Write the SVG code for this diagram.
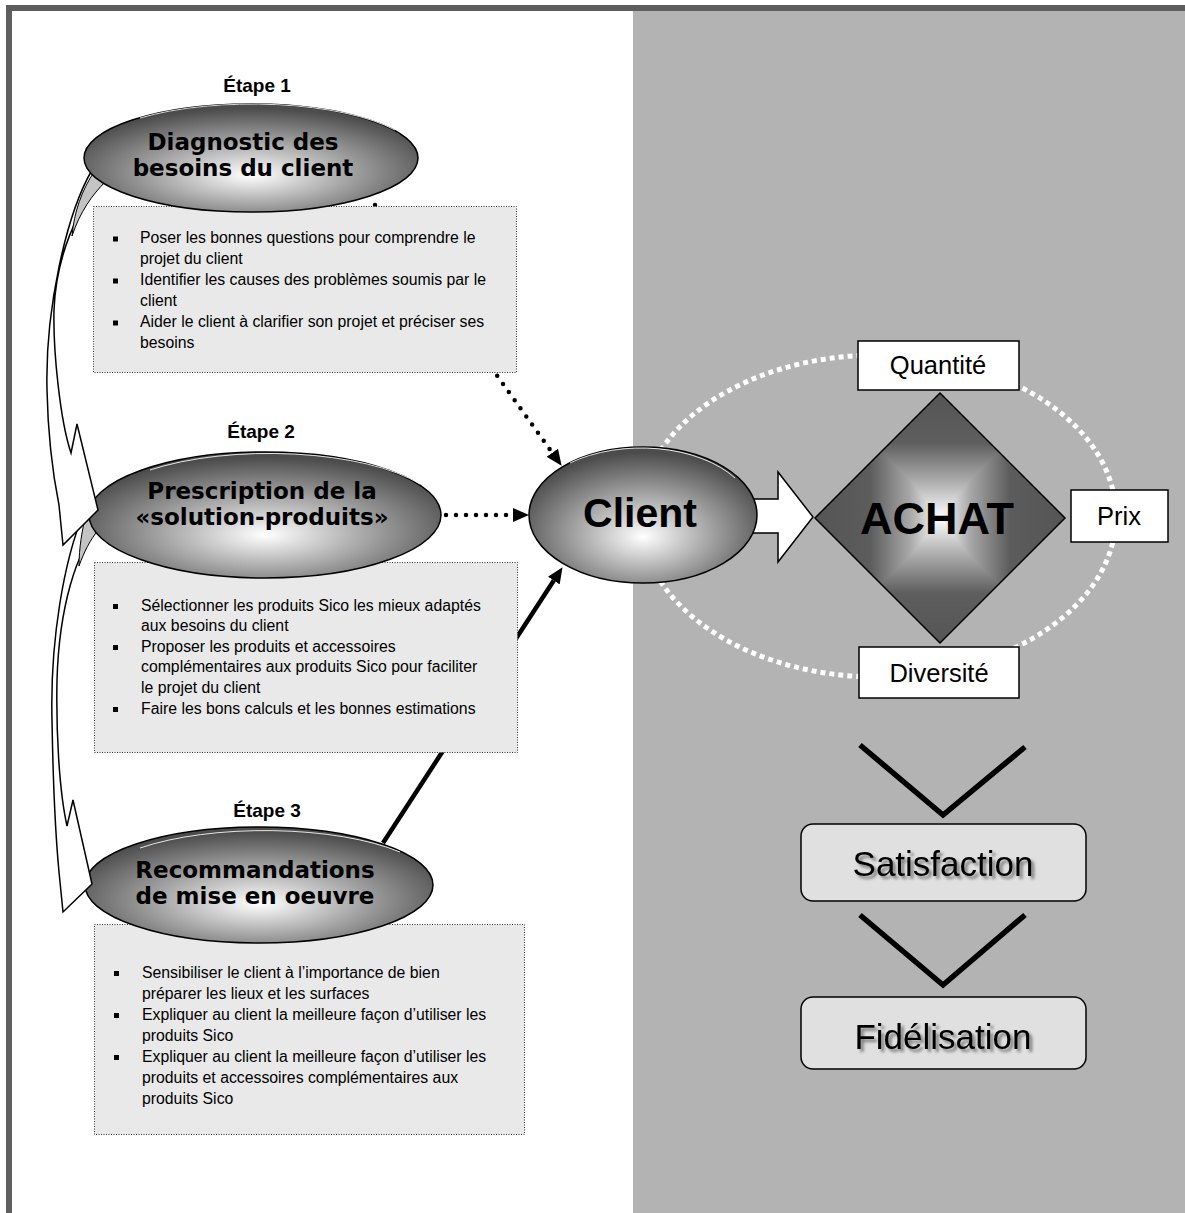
<svg xmlns="http://www.w3.org/2000/svg" width="1185" height="1213" viewBox="0 0 1185 1213">
<style>
text { font-family: "Liberation Sans", Arial, sans-serif; fill: #000; }
.body { font-size: 15.8px; }
.etape { font-size: 19px; font-weight: bold; text-anchor: middle; }
.elab { font-family: "DejaVu Sans", "Liberation Sans", sans-serif; font-size: 23px; font-weight: bold; text-anchor: middle; }
.box { fill: #e9e9e9; stroke: #333; stroke-width: 1; stroke-dasharray: 1 1.5; }
.ell { fill: url(#eg); stroke: #000; stroke-width: 1.5; }
.hl { fill: none; stroke: #fff; stroke-width: 1; opacity: 0.85; }
.tag { fill: #fff; stroke: #000; stroke-width: 1.5; }
.tagt { font-size: 25.5px; text-anchor: middle; }
.rbox { fill: #e0e0e0; stroke: #000; stroke-width: 1.5; }
.big { font-size: 35px; text-anchor: middle; filter: url(#sh); }
.dots { fill: none; stroke: #000; stroke-width: 4.5; stroke-linecap: round; stroke-dasharray: 0 10; }
.solid { fill: none; stroke: #000; stroke-width: 4.5; }
.curv { fill: #fff; stroke: #000; stroke-width: 1.5; stroke-linejoin: miter; }
.back { fill: #c4c4c4; stroke: #000; stroke-width: 1; }
.chev { fill: none; stroke: #000; stroke-width: 5.5; }
.bul { fill: #000; }
</style>
<defs>
<radialGradient id="eg" cx="0.5" cy="0.62" r="0.58" fx="0.5" fy="0.66">
<stop offset="0" stop-color="#ffffff"/>
<stop offset="1" stop-color="#4c4c4c"/>
</radialGradient>
<linearGradient id="dgh" x1="0" y1="0" x2="1" y2="0">
<stop offset="0" stop-color="#555"/>
<stop offset="0.22" stop-color="#5c5c5c"/>
<stop offset="0.38" stop-color="#a8a8a8"/>
<stop offset="0.5" stop-color="#ffffff"/>
<stop offset="0.62" stop-color="#a8a8a8"/>
<stop offset="0.78" stop-color="#5c5c5c"/>
<stop offset="1" stop-color="#555"/>
</linearGradient>
<linearGradient id="dgv" x1="0" y1="0" x2="0" y2="1">
<stop offset="0" stop-color="#555"/>
<stop offset="0.2" stop-color="#5e5e5e"/>
<stop offset="0.36" stop-color="#b0b0b0"/>
<stop offset="0.5" stop-color="#ffffff"/>
<stop offset="0.64" stop-color="#b0b0b0"/>
<stop offset="0.8" stop-color="#5e5e5e"/>
<stop offset="1" stop-color="#555"/>
</linearGradient>
<marker id="ah" viewBox="0 0 16 14" refX="0" refY="7" markerWidth="16" markerHeight="14" orient="auto" markerUnits="userSpaceOnUse">
<path d="M0,0 L16,7 L0,14 Z" fill="#000"/>
</marker>
<filter id="sh" x="-10%" y="-30%" width="130%" height="170%">
<feGaussianBlur in="SourceAlpha" stdDeviation="1.6"/>
<feOffset dx="2.5" dy="3" result="o"/>
<feFlood flood-color="#000" flood-opacity="0.45"/>
<feComposite in2="o" operator="in"/>
<feMerge><feMergeNode/><feMergeNode in="SourceGraphic"/></feMerge>
</filter>
</defs>

<!-- background / frame -->
<rect x="0" y="0" width="1185" height="1213" fill="#fff"/>
<rect x="633" y="11" width="552" height="1202" fill="#b3b3b3"/>
<rect x="6" y="5" width="1179" height="6" fill="#5e5e5e"/>
<rect x="6" y="5" width="6" height="1208" fill="#5e5e5e"/>

<!-- connectors -->
<g id="connectors">
<line class="dots" x1="375" y1="205" x2="552.3" y2="452.8" marker-end="url(#ah)"/>
<line class="dots" x1="446" y1="515" x2="513" y2="515" marker-end="url(#ah)"/>
<line class="solid" x1="383" y1="843" x2="553.8" y2="580.6" marker-end="url(#ah)"/>
</g>

<!-- text boxes -->
<g id="box1">
<rect class="box" x="93.5" y="206.5" width="423" height="166"/>
<rect class="bul" x="113" y="236.5" width="5" height="5"/>
<rect class="bul" x="113" y="278.5" width="5" height="5"/>
<rect class="bul" x="113" y="320.5" width="5" height="5"/>
<text class="body" x="140" y="243">Poser les bonnes questions pour comprendre le</text>
<text class="body" x="140" y="264">projet du client</text>
<text class="body" x="140" y="285">Identifier les causes des problèmes soumis par le</text>
<text class="body" x="140" y="306">client</text>
<text class="body" x="140" y="327">Aider le client à clarifier son projet et préciser ses</text>
<text class="body" x="140" y="348">besoins</text>
</g>
<g id="box2">
<rect class="box" x="94.5" y="562.5" width="423" height="190"/>
<rect class="bul" x="113" y="604" width="5" height="5"/>
<rect class="bul" x="113" y="645" width="5" height="5"/>
<rect class="bul" x="113" y="707" width="5" height="5"/>
<text class="body" x="141" y="610.5">Sélectionner les produits Sico les mieux adaptés</text>
<text class="body" x="141" y="631">aux besoins du client</text>
<text class="body" x="141" y="651.5">Proposer les produits et accessoires</text>
<text class="body" x="141" y="672">complémentaires aux produits Sico pour faciliter</text>
<text class="body" x="141" y="692.5">le projet du client</text>
<text class="body" x="141" y="713.5">Faire les bons calculs et les bonnes estimations</text>
</g>
<g id="box3">
<rect class="box" x="94.5" y="924.5" width="430" height="210"/>
<rect class="bul" x="114" y="971" width="5" height="5"/>
<rect class="bul" x="114" y="1013" width="5" height="5"/>
<rect class="bul" x="114" y="1055" width="5" height="5"/>
<text class="body" x="142" y="977.5">Sensibiliser le client à l’importance de bien</text>
<text class="body" x="142" y="998.5">préparer les lieux et les surfaces</text>
<text class="body" x="142" y="1019.5">Expliquer au client la meilleure façon d’utiliser les</text>
<text class="body" x="142" y="1040.5">produits Sico</text>
<text class="body" x="142" y="1061.5">Expliquer au client la meilleure façon d’utiliser les</text>
<text class="body" x="142" y="1083">produits et accessoires complémentaires aux</text>
<text class="body" x="142" y="1104">produits Sico</text>
</g>

<!-- step 3 -->
<g id="etape3">
<text class="etape" x="267" y="817">Étape 3</text>
<ellipse class="ell" cx="259" cy="885" rx="174" ry="58"/>
<path class="hl" d="M 140,848 A 172,56 0 0 1 400,852"/>
<text class="elab" x="255" y="878">Recommandations</text>
<text class="elab" x="255" y="904">de mise en oeuvre</text>
</g>

<!-- curved arrow 2 -> 3 -->
<g id="curve2">
<path class="curv" d="M 84,512 C 64,560 50,640 52,720 C 53,780 56,840 59,872 L 63,912 L 92,884 L 73,800 L 67,826 C 59,790 56,730 57,680 C 59,610 76,548 100,528 Z"/>
<path class="back" d="M 86,515 L 99,529 C 90,540 84,552 79,566 C 79,548 82,530 86,515 Z"/>
</g>

<g id="etape2">
<text class="etape" x="261" y="438">Étape 2</text>
<ellipse class="ell" cx="265" cy="515" rx="176" ry="63"/>
<path class="hl" d="M 150,470 A 174,61 0 0 1 420,484"/>
<text class="elab" x="262" y="499">Prescription de la</text>
<text class="elab" x="262" y="525">«solution-produits»</text>
</g>

<!-- curved arrow 1 -> 2 -->
<g id="curve1">
<path class="curv" d="M 92,170 C 66,215 45,310 47,390 C 48,440 54,480 59,505 L 63,545 L 98,510 L 77,424 L 71,453 C 60,420 53,350 54,310 C 56,260 76,205 106,180 Z"/>
<path class="back" d="M 94,172 L 106,181 C 92,195 80,212 72,236 C 74,212 82,190 94,172 Z"/>
</g>

<g id="etape1">
<text class="etape" x="257" y="92">Étape 1</text>
<ellipse class="ell" cx="251" cy="158" rx="167" ry="54"/>
<path class="hl" d="M 140,118 A 165,52 0 0 1 395,130"/>
<text class="elab" x="243" y="150">Diagnostic des</text>
<text class="elab" x="243" y="176">besoins du client</text>
</g>

<!-- right panel -->
<g id="cycle">
<ellipse cx="878" cy="516" rx="238" ry="161" fill="none" stroke="#fff" stroke-width="5" stroke-dasharray="5 4"/>
</g>
<g id="fleche">
<path d="M 750,499 L 778,499 L 778,472 L 813,517 L 778,562 L 778,533 L 750,533 Z" fill="#fff" stroke="#000" stroke-width="1.5"/>
</g>
<g id="client">
<ellipse class="ell" cx="643" cy="515" rx="114" ry="68"/>
<path class="hl" d="M 570,463 A 112,66 0 0 1 735,478"/>
<text x="640" y="527" font-size="41" font-weight="bold" text-anchor="middle">Client</text>
</g>
<g id="achat">
<g style="isolation:isolate">
<path d="M 940,393 L 1065,518 L 940,643 L 815,518 Z" fill="url(#dgh)"/>
<path d="M 940,393 L 1065,518 L 940,643 L 815,518 Z" fill="url(#dgv)" style="mix-blend-mode:darken"/>
</g>
<path d="M 940,393 L 1065,518 L 940,643 L 815,518 Z" fill="none" stroke="#000" stroke-width="1.5"/>
<text x="937" y="534" font-size="45" font-weight="bold" text-anchor="middle">ACHAT</text>
</g>
<g id="quantite">
<rect class="tag" x="858" y="341" width="161" height="49"/>
<text class="tagt" x="938" y="374">Quantité</text>
</g>
<g id="prix">
<rect class="tag" x="1071" y="490" width="97" height="52"/>
<text class="tagt" x="1119" y="525">Prix</text>
</g>
<g id="diversite">
<rect class="tag" x="859" y="647" width="160" height="51"/>
<text class="tagt" x="939" y="682">Diversité</text>
</g>
<g id="chevrons">
<polyline class="chev" points="860,745 943,815 1025,747"/>
<polyline class="chev" points="860,915 943,985 1025,915"/>
</g>
<g id="satisfaction">
<rect class="rbox" x="801" y="824" width="285" height="77" rx="12"/>
<text class="big" x="943" y="876">Satisfaction</text>
</g>
<g id="fidelisation">
<rect class="rbox" x="801" y="997" width="285" height="72" rx="12"/>
<text class="big" x="943" y="1049">Fidélisation</text>
</g>
</svg>
